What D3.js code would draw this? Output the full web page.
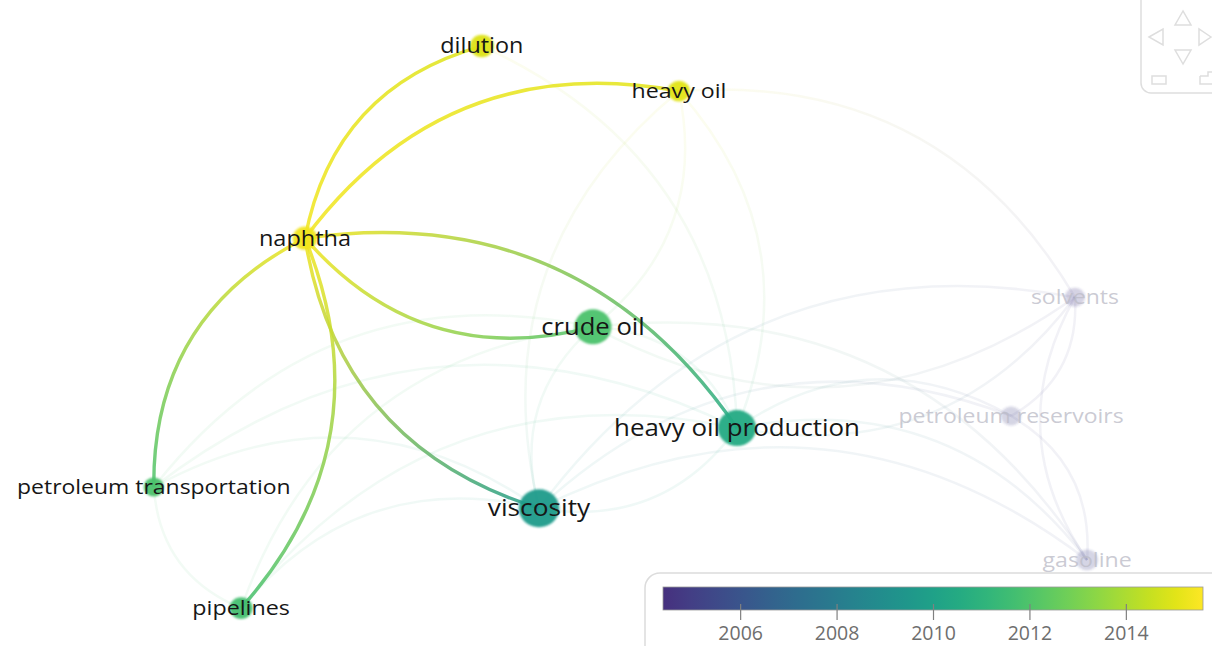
<!DOCTYPE html>
<html>
<head>
<meta charset="utf-8">
<script src="https://cdn.jsdelivr.net/npm/d3@7"></script>
<style>
  html, body { margin: 0; padding: 0; background: #fff; overflow: hidden; }
  svg { display: block; font-family: "Open Sans", sans-serif; }
</style>
</head>
<body>
<svg id="map" width="1212" height="646"></svg>
<script>
// terms of the overlay map, their map coordinates, occurrences and average publication year
const terms = ['dilution', 'heavy oil', 'naphtha', 'crude oil', 'heavy oil production', 'viscosity',
  'petroleum transportation', 'pipelines', 'solvents', 'petroleum reservoirs', 'gasoline'];
const mapX = [-0.307, 0.131, -0.700, -0.060, 0.260, -0.180, -1.036, -0.842, 1.011, 0.869, 1.038];
const mapY = [0.631, 0.531, 0.204, 0.007, -0.218, -0.396, -0.349, -0.618, 0.073, -0.191, -0.511];
const occurrences = [14, 12, 15, 34, 36, 40, 10, 13, 10, 10, 12];
const avgYear = [2014.9, 2015.0, 2015.3, 2011.9, 2010.5, 2009.7, 2011.9, 2011.7, 2004.9, 2005.1, 2005.3];

// co-occurrence links (first term is where the curve starts)
const links = [
  ['crude oil', 'naphtha'], ['viscosity', 'naphtha'], ['petroleum transportation', 'naphtha'],
  ['naphtha', 'dilution'], ['naphtha', 'heavy oil'], ['naphtha', 'heavy oil production'], ['naphtha', 'pipelines'],
  ['crude oil', 'heavy oil production'], ['viscosity', 'crude oil'], ['heavy oil production', 'viscosity'],
  ['petroleum transportation', 'crude oil'], ['petroleum transportation', 'heavy oil production'],
  ['pipelines', 'viscosity'], ['pipelines', 'heavy oil production'], ['petroleum transportation', 'viscosity'],
  ['pipelines', 'petroleum transportation'], ['viscosity', 'heavy oil'], ['heavy oil', 'heavy oil production'],
  ['heavy oil', 'crude oil'], ['dilution', 'heavy oil production'], ['solvents', 'crude oil'],
  ['solvents', 'heavy oil production'], ['viscosity', 'solvents'], ['solvents', 'petroleum reservoirs'],
  ['gasoline', 'solvents'], ['petroleum reservoirs', 'gasoline'], ['heavy oil production', 'petroleum reservoirs'],
  ['viscosity', 'petroleum reservoirs'], ['heavy oil production', 'gasoline'], ['viscosity', 'gasoline'],
  ['heavy oil', 'solvents'], ['crude oil', 'gasoline'], ['pipelines', 'crude oil']
];

const focus = 'naphtha';
const yearTicks = [2006, 2008, 2010, 2012, 2014];
const yearRange = [2004.4, 2015.6];   // span shown by the colour bar
const colourRange = [2002.6, 2015.6]; // span of the viridis map

const svg = d3.select('#map');
const defs = svg.append('defs');

const x = d3.scaleLinear().domain([-1, 1]).range([170, 1070]);
const y = d3.scaleLinear().domain([-1, 1]).range([780, -120]);
const radius = d3.scaleSqrt().domain([0, 40]).range([0, 19]);
const fontSize = d3.scaleLinear().domain([10, 40]).range([20.5, 23.5]);
const color = d3.scaleSequential(d3.interpolateViridis).domain(colourRange);

const nodes = terms.map((t, i) => ({
  name: t, x: x(mapX[i]), y: y(mapY[i]), w: occurrences[i], year: avgYear[i]
}));
const byName = new Map(nodes.map((d) => [d.name, d]));

const neighbours = new Set([focus]);
links.forEach(([a, b]) => {
  if (a === focus) neighbours.add(b);
  if (b === focus) neighbours.add(a);
});

const edges = links.map(([a, b], i) => ({
  id: `lg-${i}`, s: byName.get(a), t: byName.get(b), on: a === focus || b === focus
}));

defs.append('filter').attr('id', 'soft')
  .attr('x', '-30%').attr('y', '-30%').attr('width', '160%').attr('height', '160%')
  .append('feGaussianBlur').attr('stdDeviation', 1.2);

// gradient per link, from one end colour to the other
const grads = defs.selectAll('.lg').data(edges).join('linearGradient')
  .attr('class', 'lg')
  .attr('id', (d) => d.id)
  .attr('gradientUnits', 'userSpaceOnUse')
  .attr('x1', (d) => d.s.x).attr('y1', (d) => d.s.y)
  .attr('x2', (d) => d.t.x).attr('y2', (d) => d.t.y);
grads.append('stop').attr('offset', '0%').attr('stop-color', (d) => color(d.s.year));
grads.append('stop').attr('offset', '100%').attr('stop-color', (d) => color(d.t.year));

function curve(d) {
  const dx = d.t.x - d.s.x, dy = d.t.y - d.s.y;
  const k = 0.31;
  const cx = (d.s.x + d.t.x) / 2 + k * dy;
  const cy = (d.s.y + d.t.y) / 2 - k * dx;
  return `M${d.s.x},${d.s.y}Q${cx},${cy} ${d.t.x},${d.t.y}`;
}

const gLinks = svg.append('g').attr('fill', 'none');
gLinks.selectAll('path.faint').data(edges.filter((d) => !d.on)).join('path')
  .attr('class', 'faint')
  .attr('d', curve)
  .attr('stroke', (d) => `url(#${d.id})`)
  .attr('stroke-width', 2.5)
  .attr('stroke-opacity', 0.07);
gLinks.selectAll('path.on').data(edges.filter((d) => d.on)).join('path')
  .attr('class', 'on')
  .attr('d', curve)
  .attr('stroke', (d) => `url(#${d.id})`)
  .attr('stroke-width', 3.4)
  .attr('stroke-opacity', 0.85);

// nodes
svg.append('g').attr('filter', 'url(#soft)')
  .selectAll('ellipse').data(nodes).join('ellipse')
  .attr('cx', (d) => d.x).attr('cy', (d) => d.y)
  .attr('rx', (d) => radius(d.w) * 1.06)
  .attr('ry', (d) => radius(d.w))
  .attr('fill', (d) => color(d.year))
  .attr('fill-opacity', (d) => (neighbours.has(d.name) ? 0.95 : 0.22));

// labels (the map image is a little wider than tall)
svg.append('g').selectAll('text').data(nodes).join('text')
  .attr('transform', (d) => `translate(${d.x},${d.y}) scale(1.12,1)`)
  .attr('text-anchor', 'middle')
  .attr('dy', '0.35em')
  .attr('font-size', (d) => fontSize(d.w))
  .attr('fill', (d) => (neighbours.has(d.name) ? '#161616' : '#bdbdc8'))
  .attr('fill-opacity', (d) => (neighbours.has(d.name) ? 1 : 0.8))
  .text((d) => d.name);

// colour legend
const legend = svg.append('g');
legend.append('rect')
  .attr('x', 645).attr('y', 573).attr('width', 600).attr('height', 110)
  .attr('rx', 15).attr('fill', '#fff').attr('stroke', '#dcdcdc').attr('stroke-width', 1.5);

const lx = d3.scaleLinear().domain(yearRange).range([663, 1203]);
const bar = defs.append('linearGradient').attr('id', 'viridis');
d3.range(0, 1.0001, 0.05).forEach((t) => {
  bar.append('stop').attr('offset', `${t * 100}%`)
    .attr('stop-color', color(yearRange[0] + t * (yearRange[1] - yearRange[0])));
});
legend.append('rect')
  .attr('x', lx.range()[0]).attr('y', 587)
  .attr('width', lx.range()[1] - lx.range()[0]).attr('height', 23)
  .attr('fill', 'url(#viridis)').attr('stroke', '#9a9a9a').attr('stroke-width', 0.8);

const axis = legend.append('g').attr('transform', 'translate(0,604)')
  .call(d3.axisBottom(lx).tickValues(yearTicks).tickFormat(d3.format('d')).tickSize(16).tickPadding(6));
axis.select('.domain').remove();
axis.selectAll('line').attr('stroke', '#808080').attr('stroke-width', 1.2);
axis.selectAll('text').attr('fill', '#6e6e6e').attr('font-size', 19.5)
  .attr('font-family', '"Open Sans", sans-serif');

// navigation control
const nav = svg.append('g').attr('fill', 'none').attr('stroke', '#dedede').attr('stroke-width', 1.5);
nav.append('rect').attr('x', 1141).attr('y', -12).attr('width', 90).attr('height', 105).attr('rx', 10);
nav.append('path').attr('d', 'M1183,11 L1175,25 L1191,25 Z');
nav.append('path').attr('d', 'M1183,64 L1175,50 L1191,50 Z');
nav.append('path').attr('d', 'M1149,37 L1163,29 L1163,45 Z');
nav.append('path').attr('d', 'M1211,37 L1199,29 L1199,45 Z');
nav.append('rect').attr('x', 1152).attr('y', 76).attr('width', 14).attr('height', 8);
nav.append('path').attr('d', 'M1200,76 h8 v-4 h6 v4 M1200,76 v8 h14');
</script>
</body>
</html>
